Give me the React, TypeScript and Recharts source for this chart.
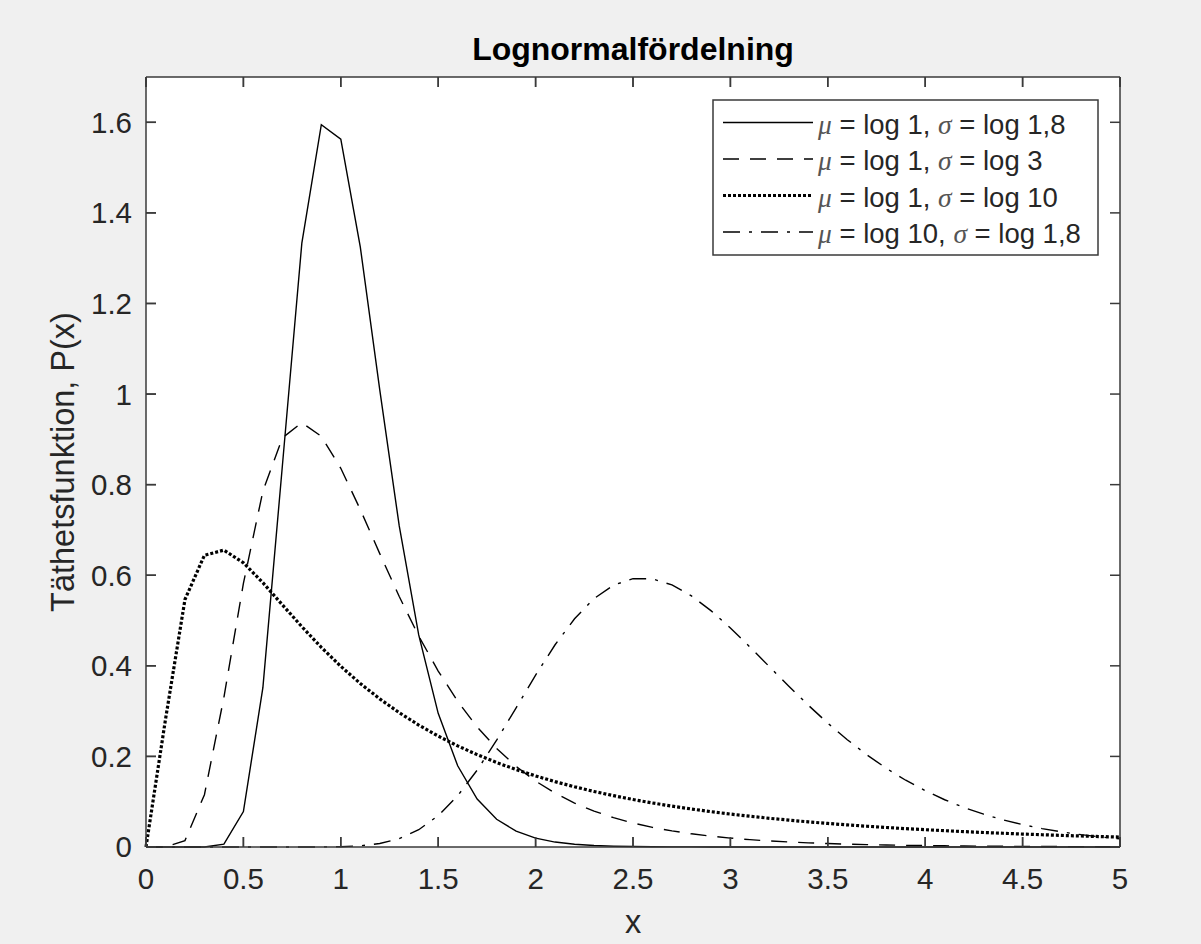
import React from "react";
import { LineChart, Line, XAxis, YAxis } from "recharts";

// x sampled every 0.1 from 0 to 5
const xs = [
  0, 0.1, 0.2, 0.3, 0.4, 0.5, 0.6, 0.7, 0.8, 0.9, 1, 1.1, 1.2, 1.3, 1.4, 1.5, 1.6,
  1.7, 1.8, 1.9, 2, 2.1, 2.2, 2.3, 2.4, 2.5, 2.6, 2.7, 2.8, 2.9, 3, 3.1, 3.2, 3.3,
  3.4, 3.5, 3.6, 3.7, 3.8, 3.9, 4, 4.1, 4.2, 4.3, 4.4, 4.5, 4.6, 4.7, 4.8, 4.9, 5,
];

// mu = log 1, sigma = log 1,8 (solid)
const solid = [
  0, 0, 0, 0.0001, 0.0062, 0.0783, 0.3517, 0.8412, 1.3332, 1.5947, 1.5628, 1.3251,
  1.0091, 0.7089, 0.4683, 0.2951, 0.1793, 0.106, 0.0613, 0.0349, 0.0196, 0.0109,
  0.006, 0.0033, 0.0018, 0.001, 0.0005, 0.0003, 0.0002, 0.0001, 0.0001, 0, 0, 0, 0,
  0, 0, 0, 0, 0, 0, 0, 0, 0, 0, 0, 0, 0, 0, 0, 0,
];

// mu = log 1, sigma = log 3 (dashed)
const dashed = [
  0, 0.0001, 0.0141, 0.1155, 0.3306, 0.5821, 0.7856, 0.9033, 0.9369, 0.9067, 0.8361,
  0.7451, 0.6477, 0.5529, 0.4658, 0.3885, 0.3217, 0.265, 0.2175, 0.1781, 0.1455,
  0.1188, 0.097, 0.0792, 0.0647, 0.0529, 0.0433, 0.0355, 0.0291, 0.0239, 0.0197,
  0.0162, 0.0134, 0.0111, 0.0092, 0.0076, 0.0063, 0.0053, 0.0044, 0.0037, 0.0031,
  0.0026, 0.0022, 0.0018, 0.0015, 0.0013, 0.0011, 0.0009, 0.0008, 0.0007, 0.0006,
];

// mu = log 1, sigma = log 10 (dotted)
const dotted = [
  0, 0.2816, 0.5463, 0.6442, 0.6554, 0.6275, 0.5836, 0.5348, 0.4864, 0.4408, 0.3989,
  0.361, 0.327, 0.2965, 0.2693, 0.245, 0.2233, 0.2039, 0.1865, 0.1709, 0.1569,
  0.1443, 0.1329, 0.1226, 0.1133, 0.1049, 0.0972, 0.0902, 0.0839, 0.0781, 0.0727,
  0.0679, 0.0634, 0.0593, 0.0555, 0.052, 0.0488, 0.0458, 0.0431, 0.0405, 0.0382,
  0.036, 0.0339, 0.032, 0.0303, 0.0286, 0.0271, 0.0256, 0.0243, 0.023, 0.0219,
];

// mu = log 10, sigma = log 1,8 (dash-dot)
const dashDot = [
  0, 0, 0, 0, 0, 0, 0, 0, 0, 0.0001, 0.0007, 0.0027, 0.0077, 0.0185, 0.0381, 0.0692,
  0.1132, 0.1696, 0.2357, 0.3074, 0.3794, 0.4465, 0.5039, 0.5485, 0.5781, 0.5924,
  0.592, 0.5786, 0.5544, 0.5219, 0.4835, 0.4416, 0.3982, 0.3549, 0.313, 0.2735,
  0.2369, 0.2037, 0.1738, 0.1474, 0.1243, 0.1043, 0.0871, 0.0724, 0.0599, 0.0494,
  0.0406, 0.0333, 0.0272, 0.0222, 0.0181,
];

const xTicks = [0, 0.5, 1, 1.5, 2, 2.5, 3, 3.5, 4, 4.5, 5];
const yTicks = [0, 0.2, 0.4, 0.6, 0.8, 1, 1.2, 1.4, 1.6];

const data = xs.map((x, i) => ({
  x,
  solid: solid[i],
  dashed: dashed[i],
  dotted: dotted[i],
  dashDot: dashDot[i],
}));

const FONT = "'Liberation Sans', Arial, Helvetica, sans-serif";
const INK = "#262626";
const AXIS = "#3a3a3a";
const TICK_LEN = 10;

const W = 1201;
const H = 944;
const PLOT = { left: 146, top: 77, right: 1120, bottom: 847 };
const X_MAX = 5;
const Y_MAX = 1.7;

// same mapping as the chart's axes, used for the inward box tick marks
const px = (v: number) => PLOT.left + (v / X_MAX) * (PLOT.right - PLOT.left);
const py = (v: number) => PLOT.bottom - (v / Y_MAX) * (PLOT.bottom - PLOT.top);

const legendItems = [
  { dash: undefined, width: 1.4, mu: "1", sigma: "1,8" },
  { dash: "16 11", width: 1.4, mu: "1", sigma: "3" },
  { dash: "3 2", width: 3.2, mu: "1", sigma: "10" },
  { dash: "17 9 3 9", width: 1.4, mu: "10", sigma: "1,8" },
];

const renderYLabel = (props: any) => {
  const vb = props.viewBox || {};
  const cx = 62;
  const cy = vb.height ? vb.y + vb.height / 2 : 462;
  return (
    <text
      x={cx}
      y={cy}
      transform={`rotate(-90 ${cx} ${cy})`}
      textAnchor="middle"
      dy="0.355em"
      fontFamily={FONT}
      fontSize={32.5}
      fill={INK}
    >
      Täthetsfunktion, P(x)
    </text>
  );
};

export default function App() {
  const tickStyle = { fill: INK, fontSize: 29.5, fontFamily: FONT };
  const blank = () => "";
  const axisLine = { stroke: AXIS, strokeWidth: 1.5 };
  const tickLine = { stroke: AXIS, strokeWidth: 1.5 };
  return (
    <div
      style={{
        position: "absolute",
        left: 0,
        top: 0,
        width: W,
        height: H,
        background: "#f0f0f0",
      }}
    >
      <div
        style={{
          position: "absolute",
          left: PLOT.left,
          top: PLOT.top,
          width: PLOT.right - PLOT.left,
          height: PLOT.bottom - PLOT.top,
          background: "#fff",
        }}
      />
      <div style={{ position: "absolute", left: 0, top: 0 }}>
        <LineChart
          width={W}
          height={H}
          data={data}
          margin={{ top: 57, right: 61, bottom: 0, left: 0 }}
        >
          <XAxis
            dataKey="x"
            type="number"
            domain={[0, X_MAX]}
            ticks={xTicks}
            interval={0}
            height={97}
            tickSize={-10}
            tickMargin={31}
            axisLine={axisLine}
            tickLine={tickLine}
            tick={tickStyle}
            label={{
              value: "x",
              position: "insideBottom",
              offset: 11,
              fontSize: 32.5,
              fontFamily: FONT,
              fill: INK,
            }}
          />
          <XAxis
            xAxisId="top"
            dataKey="x"
            orientation="top"
            type="number"
            domain={[0, X_MAX]}
            ticks={xTicks}
            interval={0}
            height={20}
            tickSize={-10}
            axisLine={axisLine}
            tickLine={tickLine}
            tickFormatter={blank}
          />
          <YAxis
            type="number"
            domain={[0, Y_MAX]}
            ticks={yTicks}
            interval={0}
            width={146}
            tickSize={-10}
            tickMargin={24}
            axisLine={axisLine}
            tickLine={tickLine}
            tick={tickStyle}
            label={renderYLabel}
          />
          <YAxis
            yAxisId="right"
            orientation="right"
            type="number"
            domain={[0, Y_MAX]}
            ticks={yTicks}
            interval={0}
            width={20}
            tickSize={-10}
            axisLine={axisLine}
            tickLine={tickLine}
            tickFormatter={blank}
          />
          <Line
            type="linear"
            dataKey="solid"
            stroke="#000"
            strokeWidth={1.4}
            dot={false}
            activeDot={false}
            isAnimationActive={false}
          />
          <Line
            type="linear"
            dataKey="dashed"
            stroke="#000"
            strokeWidth={1.4}
            strokeDasharray="16 11"
            dot={false}
            activeDot={false}
            isAnimationActive={false}
          />
          <Line
            type="linear"
            dataKey="dotted"
            stroke="#000"
            strokeWidth={3.2}
            strokeDasharray="3 2"
            dot={false}
            activeDot={false}
            isAnimationActive={false}
          />
          <Line
            type="linear"
            dataKey="dashDot"
            stroke="#000"
            strokeWidth={1.4}
            strokeDasharray="17 9 3 9"
            dot={false}
            activeDot={false}
            isAnimationActive={false}
          />
        </LineChart>
      </div>
      {/* box ticks, title and legend drawn on top */}
      <svg
        width={W}
        height={H}
        style={{ position: "absolute", left: 0, top: 0, pointerEvents: "none" }}
      >
        <g stroke={AXIS} strokeWidth={1.5}>
          {xTicks.map((t) => (
            <g key={`x${t}`}>
              <line x1={px(t)} x2={px(t)} y1={PLOT.bottom} y2={PLOT.bottom - TICK_LEN} />
              <line x1={px(t)} x2={px(t)} y1={PLOT.top} y2={PLOT.top + TICK_LEN} />
            </g>
          ))}
          {yTicks.map((t) => (
            <g key={`y${t}`}>
              <line x1={PLOT.left} x2={PLOT.left + TICK_LEN} y1={py(t)} y2={py(t)} />
              <line x1={PLOT.right} x2={PLOT.right - TICK_LEN} y1={py(t)} y2={py(t)} />
            </g>
          ))}
        </g>
        <text
          x={(PLOT.left + PLOT.right) / 2}
          y={60}
          textAnchor="middle"
          fontFamily={FONT}
          fontWeight="bold"
          fontSize={32}
          fill="#000"
        >
          Lognormalfördelning
        </text>
        <rect
          x={713}
          y={100}
          width={385}
          height={155}
          fill="#fff"
          stroke={AXIS}
          strokeWidth={1.5}
        />
        {legendItems.map((it, i) => {
          const base = 133.5 + i * 36.5;
          return (
            <g key={i}>
              <line
                x1={723}
                x2={813}
                y1={base - 11}
                y2={base - 11}
                stroke="#000"
                strokeWidth={it.width}
                strokeDasharray={it.dash}
              />
              <text x={818} y={base} fontFamily={FONT} fontSize={27.5} fill={INK}>
                <tspan
                  fontFamily="'Liberation Serif', 'DejaVu Serif', serif"
                  fontStyle="italic"
                  fill="#555"
                >
                  μ
                </tspan>
                {` = log ${it.mu}, `}
                <tspan
                  fontFamily="'Liberation Serif', 'DejaVu Serif', serif"
                  fontStyle="italic"
                  fill="#555"
                >
                  σ
                </tspan>
                {` = log ${it.sigma}`}
              </text>
            </g>
          );
        })}
      </svg>
    </div>
  );
}
